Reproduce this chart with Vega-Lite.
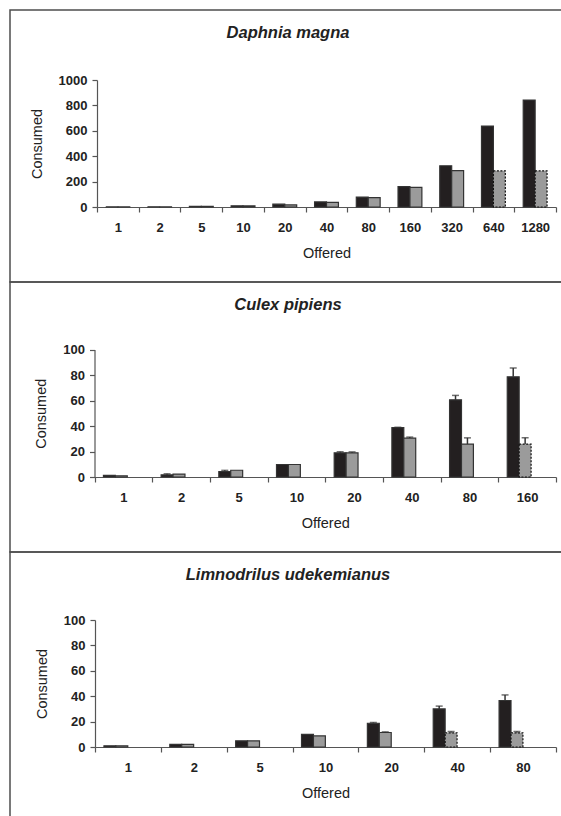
{
  "$schema": "https://vega.github.io/schema/vega-lite/v6.json",
  "padding": {"left": 9, "top": 9, "right": 0, "bottom": 0},
  "background": "white",
  "spacing": 0,
  "bounds": "flush",
  "config": {
    "view": {"stroke": "#4d4d4d", "strokeWidth": 1.5},
    "font": "Liberation Sans",
    "axis": {"grid": false, "domainColor": "#555555", "tickColor": "#555555", "labelColor": "#222222", "titleColor": "#222222", "labelFont": "Liberation Sans", "labelFontSize": 13, "labelFontWeight": "bold", "titleFont": "Liberation Sans", "titleFontSize": 14.5, "titleFontWeight": "normal", "tickSize": 5, "domainWidth": 1.2, "tickWidth": 1.2, "format": "d"},
    "axisX": {"tickBand": "extent", "labelAngle": 0, "labelPadding": 9, "titlePadding": 12},
    "axisY": {"labelPadding": 5, "titlePadding": 14},
    "title": {"font": "Liberation Sans", "fontSize": 16.5, "fontStyle": "italic", "fontWeight": "bold", "color": "#222222", "anchor": "middle", "frame": "group"}
  },
  "datasets": {
    "daphnia": [
      {"offered": "1", "series": "A", "consumed": 1, "flag": "no"},
      {"offered": "1", "series": "B", "consumed": 1, "flag": "no"},
      {"offered": "2", "series": "A", "consumed": 2, "flag": "no"},
      {"offered": "2", "series": "B", "consumed": 2, "flag": "no"},
      {"offered": "5", "series": "A", "consumed": 5, "flag": "no"},
      {"offered": "5", "series": "B", "consumed": 5, "flag": "no"},
      {"offered": "10", "series": "A", "consumed": 10, "flag": "no"},
      {"offered": "10", "series": "B", "consumed": 9, "flag": "no"},
      {"offered": "20", "series": "A", "consumed": 22, "flag": "no"},
      {"offered": "20", "series": "B", "consumed": 16, "flag": "no"},
      {"offered": "40", "series": "A", "consumed": 40, "flag": "no"},
      {"offered": "40", "series": "B", "consumed": 37, "flag": "no"},
      {"offered": "80", "series": "A", "consumed": 78, "flag": "no"},
      {"offered": "80", "series": "B", "consumed": 74, "flag": "no"},
      {"offered": "160", "series": "A", "consumed": 160, "flag": "no"},
      {"offered": "160", "series": "B", "consumed": 155, "flag": "no"},
      {"offered": "320", "series": "A", "consumed": 325, "flag": "no"},
      {"offered": "320", "series": "B", "consumed": 287, "flag": "no"},
      {"offered": "640", "series": "A", "consumed": 637, "flag": "no"},
      {"offered": "640", "series": "B", "consumed": 285, "flag": "yes"},
      {"offered": "1280", "series": "A", "consumed": 842, "flag": "no"},
      {"offered": "1280", "series": "B", "consumed": 285, "flag": "yes"}
    ],
    "culex": [
      {"offered": "1", "series": "A", "consumed": 1.2, "flag": "no"},
      {"offered": "1", "series": "B", "consumed": 1, "flag": "no"},
      {"offered": "2", "series": "A", "consumed": 1.7, "upper": 2.5, "flag": "no"},
      {"offered": "2", "series": "B", "consumed": 2.3, "flag": "no"},
      {"offered": "5", "series": "A", "consumed": 4.3, "upper": 5.2, "flag": "no"},
      {"offered": "5", "series": "B", "consumed": 5.3, "flag": "no"},
      {"offered": "10", "series": "A", "consumed": 9.8, "flag": "no"},
      {"offered": "10", "series": "B", "consumed": 9.8, "flag": "no"},
      {"offered": "20", "series": "A", "consumed": 19, "upper": 19.8, "flag": "no"},
      {"offered": "20", "series": "B", "consumed": 19, "upper": 19.7, "flag": "no"},
      {"offered": "40", "series": "A", "consumed": 38.7, "upper": 39, "flag": "no"},
      {"offered": "40", "series": "B", "consumed": 30.5, "upper": 31.3, "flag": "no"},
      {"offered": "80", "series": "A", "consumed": 60.5, "upper": 64, "flag": "no"},
      {"offered": "80", "series": "B", "consumed": 25.8, "upper": 30.7, "flag": "no"},
      {"offered": "160", "series": "A", "consumed": 78.6, "upper": 85.5, "flag": "no"},
      {"offered": "160", "series": "B", "consumed": 25.8, "upper": 30.7, "flag": "yes"}
    ],
    "limno": [
      {"offered": "1", "series": "A", "consumed": 1, "flag": "no"},
      {"offered": "1", "series": "B", "consumed": 1, "flag": "no"},
      {"offered": "2", "series": "A", "consumed": 2, "flag": "no"},
      {"offered": "2", "series": "B", "consumed": 2, "flag": "no"},
      {"offered": "5", "series": "A", "consumed": 4.9, "flag": "no"},
      {"offered": "5", "series": "B", "consumed": 4.9, "flag": "no"},
      {"offered": "10", "series": "A", "consumed": 9.9, "flag": "no"},
      {"offered": "10", "series": "B", "consumed": 8.8, "flag": "no"},
      {"offered": "20", "series": "A", "consumed": 18.7, "upper": 19.3, "flag": "no"},
      {"offered": "20", "series": "B", "consumed": 11.4, "upper": 11.9, "flag": "no"},
      {"offered": "40", "series": "A", "consumed": 30, "upper": 32.2, "flag": "no"},
      {"offered": "40", "series": "B", "consumed": 11.2, "upper": 12.2, "flag": "yes"},
      {"offered": "80", "series": "A", "consumed": 36.6, "upper": 41, "flag": "no"},
      {"offered": "80", "series": "B", "consumed": 11.2, "upper": 12.2, "flag": "yes"}
    ]
  },
  "vconcat": [
    {
      "width": 556, "height": 272,
      "title": {"text": "Daphnia magna", "offset": -31},
      "data": {"name": "daphnia"},
      "encoding": {
        "x": {"field": "offered", "type": "ordinal", "sort": null, "scale": {"range": [87, 546], "paddingInner": 0, "paddingOuter": 0}, "axis": {"title": "Offered", "offset": -75}},
        "xOffset": {"field": "series", "type": "nominal", "scale": {"paddingInner": 0, "paddingOuter": 0.75}},
        "y": {"field": "consumed", "type": "quantitative", "scale": {"domain": [0, 1000], "range": [197, 70], "nice": false}, "axis": {"title": "Consumed", "offset": -87, "values": [0, 200, 400, 600, 800, 1000]}}
      },
      "layer": [
        {
          "mark": {"type": "bar", "strokeWidth": 1.2},
          "encoding": {
            "color": {"field": "series", "type": "nominal", "scale": {"domain": ["A", "B"], "range": ["#231f20", "#9b9b9b"]}, "legend": null},
            "stroke": {"field": "flag", "type": "nominal", "scale": {"domain": ["no", "yes"], "range": ["#333333", "#111111"]}, "legend": null},
            "strokeDash": {"field": "flag", "type": "nominal", "scale": {"domain": ["no", "yes"], "range": [[1, 0], [2, 1.5]]}, "legend": null}
          }
        }
      ]
    },
    {
      "width": 556, "height": 270,
      "title": {"text": "Culex pipiens", "offset": -31},
      "data": {"name": "culex"},
      "encoding": {
        "x": {"field": "offered", "type": "ordinal", "sort": null, "scale": {"range": [84.5, 546], "paddingInner": 0, "paddingOuter": 0}, "axis": {"title": "Offered", "offset": -75}},
        "xOffset": {"field": "series", "type": "nominal", "scale": {"paddingInner": 0, "paddingOuter": 0.75}},
        "y": {"field": "consumed", "type": "quantitative", "scale": {"domain": [0, 100], "range": [195, 67.5], "nice": false}, "axis": {"title": "Consumed", "offset": -84.5, "values": [0, 20, 40, 60, 80, 100]}}
      },
      "layer": [
        {
          "mark": {"type": "bar", "strokeWidth": 1.2},
          "encoding": {
            "color": {"field": "series", "type": "nominal", "scale": {"domain": ["A", "B"], "range": ["#231f20", "#9b9b9b"]}, "legend": null},
            "stroke": {"field": "flag", "type": "nominal", "scale": {"domain": ["no", "yes"], "range": ["#333333", "#111111"]}, "legend": null},
            "strokeDash": {"field": "flag", "type": "nominal", "scale": {"domain": ["no", "yes"], "range": [[1, 0], [2, 1.5]]}, "legend": null}
          }
        },
        {
          "transform": [{"filter": "isValid(datum.upper)"}],
          "mark": {"type": "rule", "color": "#333333", "strokeWidth": 1.5},
          "encoding": {"y2": {"field": "upper"}}
        },
        {
          "transform": [{"filter": "isValid(datum.upper)"}],
          "mark": {"type": "tick", "color": "#333333", "orient": "horizontal", "size": 7, "thickness": 1.5},
          "encoding": {"y": {"field": "upper", "type": "quantitative"}}
        }
      ]
    },
    {
      "width": 556, "height": 270,
      "title": {"text": "Limnodrilus udekemianus", "offset": -31},
      "data": {"name": "limno"},
      "encoding": {
        "x": {"field": "offered", "type": "ordinal", "sort": null, "scale": {"range": [85, 546], "paddingInner": 0, "paddingOuter": 0}, "axis": {"title": "Offered", "offset": -75}},
        "xOffset": {"field": "series", "type": "nominal", "scale": {"paddingInner": 0, "paddingOuter": 0.75}},
        "y": {"field": "consumed", "type": "quantitative", "scale": {"domain": [0, 100], "range": [195, 68], "nice": false}, "axis": {"title": "Consumed", "offset": -85, "values": [0, 20, 40, 60, 80, 100]}}
      },
      "layer": [
        {
          "mark": {"type": "bar", "strokeWidth": 1.2},
          "encoding": {
            "color": {"field": "series", "type": "nominal", "scale": {"domain": ["A", "B"], "range": ["#231f20", "#9b9b9b"]}, "legend": null},
            "stroke": {"field": "flag", "type": "nominal", "scale": {"domain": ["no", "yes"], "range": ["#333333", "#111111"]}, "legend": null},
            "strokeDash": {"field": "flag", "type": "nominal", "scale": {"domain": ["no", "yes"], "range": [[1, 0], [2, 1.5]]}, "legend": null}
          }
        },
        {
          "transform": [{"filter": "isValid(datum.upper)"}],
          "mark": {"type": "rule", "color": "#333333", "strokeWidth": 1.5},
          "encoding": {"y2": {"field": "upper"}}
        },
        {
          "transform": [{"filter": "isValid(datum.upper)"}],
          "mark": {"type": "tick", "color": "#333333", "orient": "horizontal", "size": 7, "thickness": 1.5},
          "encoding": {"y": {"field": "upper", "type": "quantitative"}}
        }
      ]
    }
  ]
}
